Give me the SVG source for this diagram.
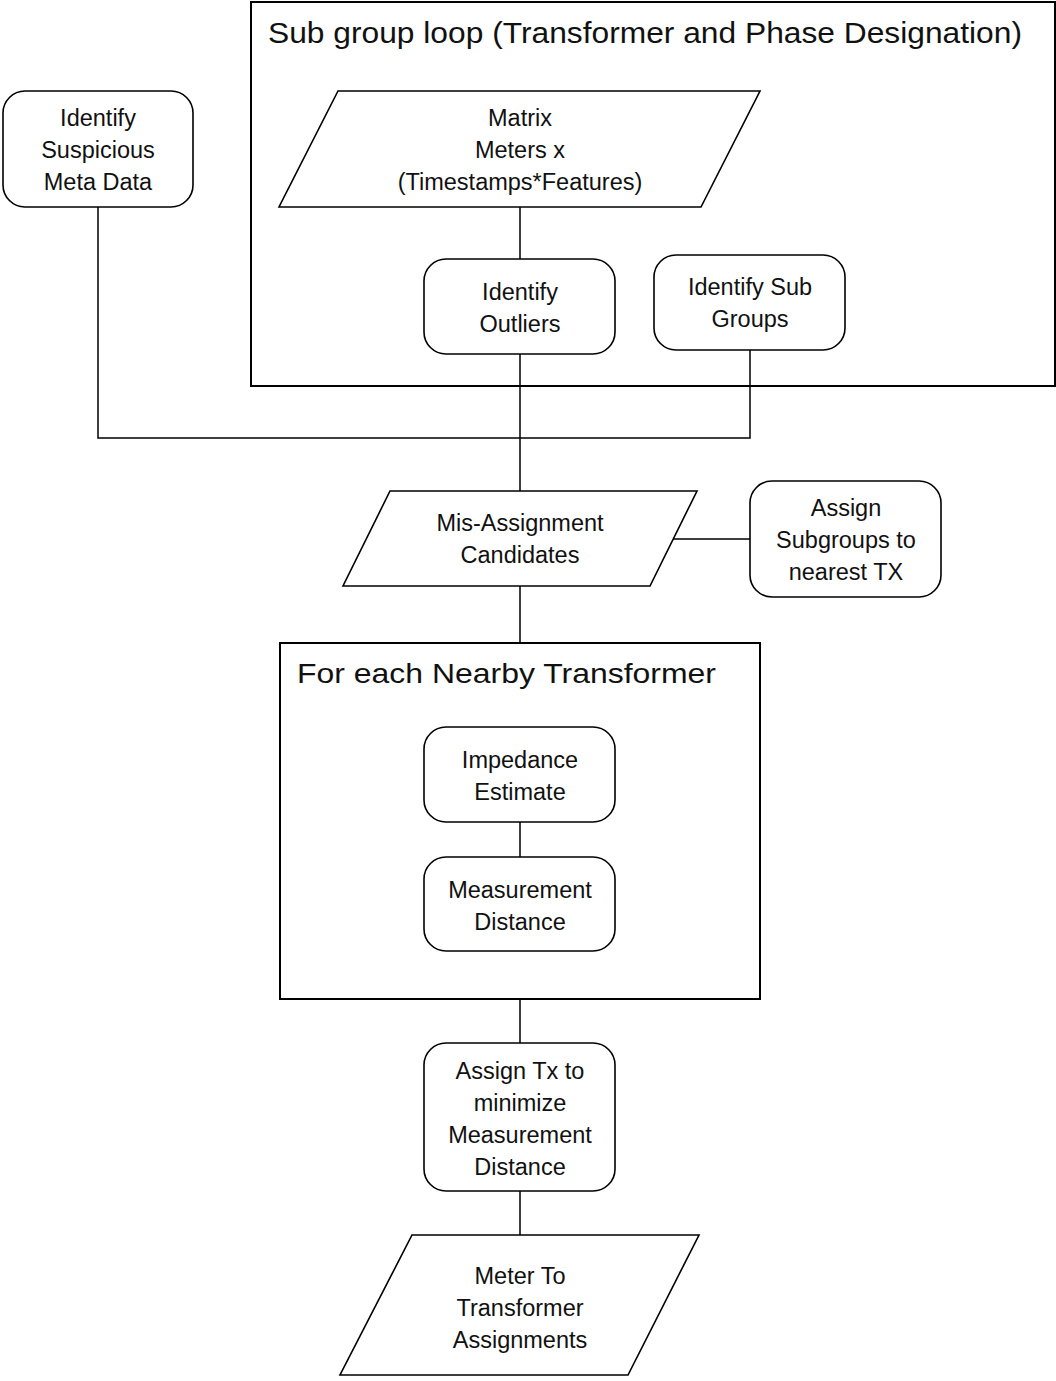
<svg xmlns="http://www.w3.org/2000/svg" width="1056" height="1381" viewBox="0 0 1056 1381">
<style>
.n{fill:#fff;stroke:#000;stroke-width:1.6}
.c{fill:none;stroke:#000;stroke-width:2}
.l{fill:none;stroke:#000;stroke-width:1.5}
text{font-family:"Liberation Sans",Arial,sans-serif;font-size:23.5px;fill:#111;text-anchor:middle}
.t{font-size:30px;text-anchor:start}
</style>
<rect width="1056" height="1381" fill="#fff"/>
<g id="subgroup-loop">
<rect class="c" x="251" y="2" width="804" height="384"/>
<text class="t" x="268" y="43" textLength="754" lengthAdjust="spacingAndGlyphs">Sub group loop (Transformer and Phase Designation)</text>
</g>
<g id="nearby-loop">
<rect class="c" x="280" y="643" width="480" height="356"/>
<text class="t" x="297" y="683" style="font-size:28px" textLength="419" lengthAdjust="spacingAndGlyphs">For each Nearby Transformer</text>
</g>
<g id="connectors">
<path class="l" d="M520 207V260M98 207V438H750V350M520 354V491M673 539H750M520 586V643M520 822V857M520 999V1043M520 1191V1235"/>
</g>
<g id="suspicious">
<rect class="n" x="3" y="91" width="190" height="116" rx="22"/>
<text x="98" y="126">Identify</text><text x="98" y="158">Suspicious</text><text x="98" y="190">Meta Data</text>
</g>
<g id="matrix">
<polygon class="n" points="338,91 760,91 701,207 279,207"/>
<text x="520" y="126">Matrix</text><text x="520" y="158">Meters x</text><text x="520" y="190">(Timestamps*Features)</text>
</g>
<g id="outliers">
<rect class="n" x="424" y="259" width="191" height="95" rx="22"/>
<text x="520" y="300">Identify</text><text x="520" y="332">Outliers</text>
</g>
<g id="subgroups">
<rect class="n" x="654" y="255" width="191" height="95" rx="22"/>
<text x="750" y="295">Identify Sub</text><text x="750" y="327">Groups</text>
</g>
<g id="candidates">
<polygon class="n" points="390,491 697,491 650,586 343,586"/>
<text x="520" y="531">Mis-Assignment</text><text x="520" y="563">Candidates</text>
</g>
<g id="assign-subgroups">
<rect class="n" x="750" y="481" width="191" height="116" rx="22"/>
<text x="846" y="516">Assign</text><text x="846" y="548">Subgroups to</text><text x="846" y="580">nearest TX</text>
</g>
<g id="impedance">
<rect class="n" x="424" y="727" width="191" height="95" rx="22"/>
<text x="520" y="768">Impedance</text><text x="520" y="800">Estimate</text>
</g>
<g id="measurement">
<rect class="n" x="424" y="857" width="191" height="94" rx="22"/>
<text x="520" y="898">Measurement</text><text x="520" y="930">Distance</text>
</g>
<g id="assign-tx">
<rect class="n" x="424" y="1043" width="191" height="148" rx="22"/>
<text x="520" y="1079">Assign Tx to</text><text x="520" y="1111">minimize</text><text x="520" y="1143">Measurement</text><text x="520" y="1175">Distance</text>
</g>
<g id="assignments">
<polygon class="n" points="412,1235 699,1235 628,1375 340,1375"/>
<text x="520" y="1284">Meter To</text><text x="520" y="1316">Transformer</text><text x="520" y="1348">Assignments</text>
</g>
</svg>
